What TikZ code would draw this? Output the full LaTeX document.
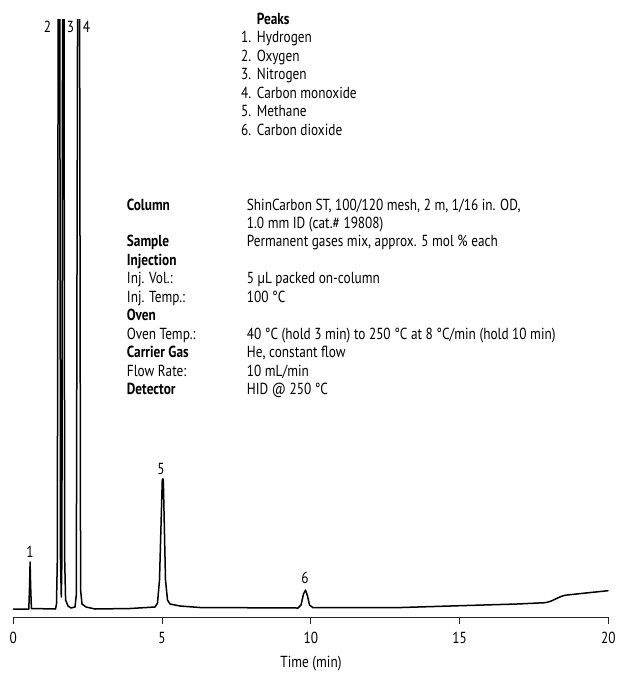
\documentclass[tikz,border=0pt]{standalone}
\usepackage{fontspec}
\setmainfont{PT Sans}[FakeStretch=0.83]
\begin{document}
\begin{tikzpicture}[x=1pt,y=-1pt,
  txt/.style={anchor=base west, inner sep=0pt, font=\fontsize{16}{18}\selectfont},
  hd/.style={txt, font=\fontsize{16}{18}\selectfont\bfseries},
  num/.style={anchor=base east, inner sep=0pt, font=\fontsize{16}{18}\selectfont},
  plab/.style={inner sep=0pt, font=\fontsize{16}{18}\selectfont},
  tlab/.style={anchor=base, inner sep=0pt, font=\fontsize{16}{18}\selectfont},
  trace/.style={line width=1.5pt, line join=round, line cap=round},
  axis/.style={line width=0.9pt, black!85}]
\useasboundingbox (0,0) rectangle (619,673);

% Peaks list
\node[hd] (pk) at (256.7,24) {Peaks};
\foreach \i/\t [count=\k from 1] in {1/Hydrogen,2/Oxygen,3/Nitrogen,4/Carbon monoxide,5/Methane,6/Carbon dioxide}{
  \node[num] (n\k) at (251.5,{24+\k*18.5}) {\i.};
  \node[txt] (p\k) at (256.7,{24+\k*18.5}) {\t};
}

% Conditions
\def\rb{210}\def\rs{18.45}
\node[hd]  (c1l) at (126.7,{\rb+0*\rs}) {Column};
\node[txt] (c1r) at (246.7,{\rb+0*\rs}) {ShinCarbon ST, 100/120 mesh, 2 m, 1/16 in. OD,};
\node[txt] (c2r) at (246.7,{\rb+1*\rs}) {1.0 mm ID (cat.\# 19808)};
\node[hd]  (c3l) at (126.7,{\rb+2*\rs}) {Sample};
\node[txt] (c3r) at (246.7,{\rb+2*\rs}) {Permanent gases mix, approx. 5 mol \% each};
\node[hd]  (c4l) at (126.7,{\rb+3*\rs}) {Injection};
\node[txt] (c5l) at (126.7,{\rb+4*\rs}) {Inj. Vol.:};
\node[txt] (c5r) at (246.7,{\rb+4*\rs}) {5 µL packed on-column};
\node[txt] (c6l) at (126.7,{\rb+5*\rs}) {Inj. Temp.:};
\node[txt] (c6r) at (246.7,{\rb+5*\rs}) {100 °C};
\node[hd]  (c7l) at (126.7,{\rb+6*\rs}) {Oven};
\node[txt] (c8l) at (126.7,{\rb+7*\rs}) {Oven Temp.:};
\node[txt] (c8r) at (246.7,{\rb+7*\rs}) {40 °C (hold 3 min) to 250 °C at 8 °C/min (hold 10 min)};
\node[hd]  (c9l) at (126.7,{\rb+8*\rs}) {Carrier Gas};
\node[txt] (c9r) at (246.7,{\rb+8*\rs}) {He, constant flow};
\node[txt] (c10l) at (126.7,{\rb+9*\rs}) {Flow Rate:};
\node[txt] (c10r) at (246.7,{\rb+9*\rs}) {10 mL/min};
\node[hd]  (c11l) at (126.7,{\rb+10*\rs}) {Detector};
\node[txt] (c11r) at (246.7,{\rb+10*\rs}) {HID @ 250 °C};

% Axis
\draw[axis] (13.3,624) -- (13.3,617.7) -- (608.3,617.7) -- (608.3,624);
\foreach \m in {5,10,15}{ \draw[axis] ({13.3+\m*29.75},617.7) -- ({13.3+\m*29.75},624); }
\foreach \m in {0,5,10,15,20}{ \node[tlab] (t\m) at ({13.3+\m*29.75},643) {\m}; }
\node[tlab] (xl) at (311,667) {Time (min)};

% Peak labels
\node[plab] (l1) at (30,552) {1};
\node[plab] (l2) at (47.5,26.5) {2};
\node[plab] (l3) at (70.5,26.5) {3};
\node[plab] (l4) at (86.5,26.5) {4};
\node[plab] (l5) at (161,468.5) {5};
\node[plab] (l6) at (305,578) {6};

% Trace
\begin{scope}
\clip (0,19) rectangle (619,673);
\draw[trace] (13.3,609) -- (28.8,609) -- (29.6,585) -- (30.1,562) -- (30.6,585) -- (31.4,608.5)
 -- (55.5,609) -- (56.5,604) -- (57.3,560) -- (58.2,0) -- (59.8,0) -- (60.5,560) -- (61.3,597)
 -- (61.9,560) -- (62.6,0) -- (64.0,0) -- (64.7,560) -- (65.6,600) -- (68,606) -- (71,608)
 -- (75,607) -- (76.3,595) -- (77.6,0) -- (79.6,0) -- (80.6,590) -- (82,604) -- (86,607) -- (95,609)
 -- (130,608.5) -- (155,607) -- (157.5,603) -- (159.5,580) -- (162.3,479) -- (163.3,479)
 -- (165.5,580) -- (167.5,600) -- (170,604) -- (180,606) -- (200,607.5) -- (298,608)
 -- (301,605) -- (303.5,594) -- (305.5,590) -- (307.5,596) -- (309.5,605) -- (313,607.7)
 -- (395,607.7) -- (460,605.7) -- (517,604) -- (545,602.7)
 .. controls (555,601) and (558,596) .. (567,595) -- (583,593.3) -- (608,590.7);
\end{scope}
\end{tikzpicture}
\end{document}
